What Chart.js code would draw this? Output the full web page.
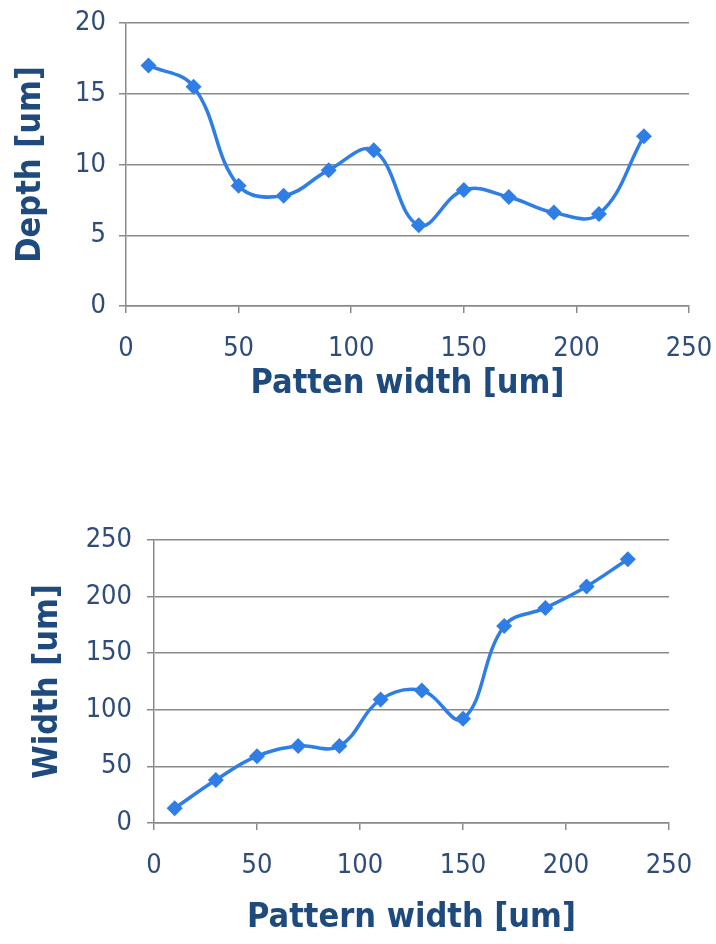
<!DOCTYPE html>
<html>
<head>
<meta charset="utf-8">
<script src="https://cdn.jsdelivr.net/npm/chart.js@4.4.1/dist/chart.umd.min.js"></script>
<style>
  html, body { margin: 0; padding: 0; background: #fff; }
  .box { position: absolute; left: 0; width: 716px; }
  #top-box { top: 0; height: 420px; }
  #bottom-box { top: 500px; height: 444px; }
</style>
</head>
<body>
<div class="box" id="top-box"><canvas id="depth-chart"></canvas></div>
<div class="box" id="bottom-box"><canvas id="width-chart"></canvas></div>
<script>
// ---------------------------------------------------------------------------
// data
// ---------------------------------------------------------------------------
const patternWidth = [10, 30, 50, 70, 90, 110, 130, 150, 170, 190, 210, 230];
const depthValues  = [17.0, 15.5, 8.5, 7.8, 9.6, 11.0, 5.7, 8.2, 7.7, 6.6, 6.5, 12.0];
const widthValues  = [13, 38, 59, 68, 68, 109, 117, 92, 174, 190, 209, 233];

const xTicks      = [0, 50, 100, 150, 200, 250];
const depthTicks  = [0, 5, 10, 15, 20];
const widthTicks  = [0, 50, 100, 150, 200, 250];

const C = {
  line:  '#2f7ee6',
  grid:  '#8a8a8a',
  tick:  '#2f4d78',
  title: '#1e4a7e',
};
// condensed face of DejaVu Sans (font-stretch keyword goes in the shorthand)
const FAMILY     = "'DejaVu Sans Condensed', 'DejaVu Sans', sans-serif";
const TICK_FONT  = { family: FAMILY, size: 27, weight: 'condensed normal' };
const TITLE_FONT = { family: FAMILY, size: 34, weight: 'condensed bold', lineHeight: 1.2 };

function points(ys){ return patternWidth.map((x, i) => ({ x, y: ys[i] })); }

function makeChart(canvasId, ys, yTicks, cfg){
  new Chart(document.getElementById(canvasId), {
    type: 'line',
    data: { datasets: [{
      data: points(ys),
      borderColor: C.line,
      backgroundColor: C.line,
      borderWidth: 3.5,
      tension: 0.4,
      pointStyle: 'rectRot',
      pointRadius: 8,
      pointBorderWidth: 0,
      fill: false,
    }]},
    options: {
      responsive: true,
      maintainAspectRatio: false,
      animation: false,
      layout: { padding: { top: cfg.padTop, right: cfg.padRight, left: 0, bottom: 0 } },
      plugins: { legend: { display: false }, tooltip: { enabled: false } },
      scales: {
        x: {
          type: 'linear',
          min: xTicks[0], max: xTicks[xTicks.length - 1],
          afterBuildTicks: s => { s.ticks = xTicks.map(v => ({ value: v })); },
          afterFit: s => { s.height = cfg.xHeight; s.paddingLeft = 0; s.paddingRight = 0; },
          ticks: { color: C.tick, font: TICK_FONT, padding: cfg.xTickPad, maxRotation: 0 },
          grid: { drawOnChartArea: false, drawTicks: true, tickLength: 7, color: C.grid, lineWidth: 1.5 },
          border: { color: C.grid, width: 1.5 },
          title: { display: true, text: cfg.xTitle, color: C.title, font: TITLE_FONT,
                   padding: { top: 0, bottom: cfg.xTitlePad } },
        },
        y: {
          min: yTicks[0], max: yTicks[yTicks.length - 1],
          afterBuildTicks: s => { s.ticks = yTicks.map(v => ({ value: v })); },
          afterFit: s => { s.width = cfg.yWidth; s.paddingTop = 0; s.paddingBottom = 0; },
          ticks: { color: C.tick, font: TICK_FONT, padding: cfg.yTickPad },
          grid: { color: C.grid, lineWidth: 1.5, tickLength: 7 },
          border: { color: C.grid, width: 1.5 },
          title: { display: true, text: cfg.yTitle, color: C.title, font: TITLE_FONT,
                   padding: { top: cfg.yTitlePad, bottom: 0 } },
        },
      },
    },
  });
}

makeChart('depth-chart', depthValues, depthTicks, {
  xTitle: 'Patten width [um]', yTitle: 'Depth [um]',
  padTop: 23, padRight: 27, xHeight: 114, yWidth: 126,
  xTickPad: 20, xTitlePad: 15, yTickPad: 13, yTitlePad: 11,
});

makeChart('width-chart', widthValues, widthTicks, {
  xTitle: 'Pattern width [um]', yTitle: 'Width [um]',
  padTop: 40, padRight: 47, xHeight: 121, yWidth: 154,
  xTickPad: 20, xTitlePad: 5, yTickPad: 15, yTitlePad: 28,
});
</script>
</body>
</html>
